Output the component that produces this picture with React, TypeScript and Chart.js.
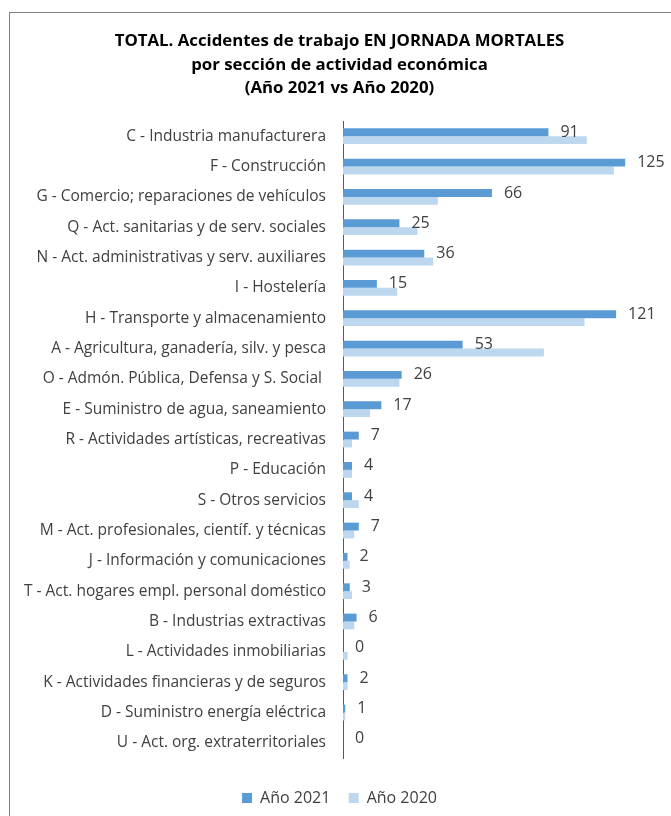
import React, { useEffect, useRef } from "react";
import { Chart, registerables } from "chart.js";

Chart.register(...registerables);

const categories = [
  "C - Industria manufacturera",
  "F - Construcción",
  "G - Comercio; reparaciones de vehículos",
  "Q - Act. sanitarias y de serv. sociales",
  "N - Act. administrativas y serv. auxiliares",
  "I - Hostelería",
  "H - Transporte y almacenamiento",
  "A - Agricultura, ganadería, silv. y pesca",
  "O - Admón. Pública, Defensa y S. Social ",
  "E - Suministro de agua, saneamiento",
  "R - Actividades artísticas, recreativas",
  "P - Educación",
  "S - Otros servicios",
  "M - Act. profesionales, científ. y técnicas",
  "J - Información y comunicaciones",
  "T - Act. hogares empl. personal doméstico",
  "B - Industrias extractivas",
  "L - Actividades inmobiliarias",
  "K - Actividades financieras y de seguros",
  "D - Suministro energía eléctrica",
  "U - Act. org. extraterritoriales",
];

const values2021 = [91, 125, 66, 25, 36, 15, 121, 53, 26, 17, 7, 4, 4, 7, 2, 3, 6, 0, 2, 1, 0];
const values2020 = [108, 120, 42, 33, 40, 24, 107, 89, 25, 12, 4, 4, 7, 5, 3, 4, 5, 2, 2, 1, 0];

const seriesNames = ["Año 2021", "Año 2020"];

const titleLines = [
  "TOTAL. Accidentes de trabajo EN JORNADA MORTALES",
  "por sección de actividad económica",
  "(Año 2021 vs Año 2020)",
];

const FONT = "'Open Sans', Lato, sans-serif";
const COLOR_2021 = "#5B9BD5";
const COLOR_2020 = "#BDD7EE";
const TEXT = "#404040";

const dataLabelPlugin = {
  id: "dataLabels2021",
  afterDatasetsDraw(chart: any) {
    const ctx = chart.ctx;
    const meta = chart.getDatasetMeta(0);
    ctx.save();
    ctx.font = `16px ${FONT}`;
    ctx.fillStyle = TEXT;
    ctx.textAlign = "left";
    ctx.textBaseline = "middle";
    meta.data.forEach((bar: any, i: number) => {
      ctx.fillText(String(values2021[i]), bar.x + 12, bar.y);
    });
    ctx.restore();
  },
};

export default function App() {
  const canvasRef = useRef<HTMLCanvasElement | null>(null);

  useEffect(() => {
    if (!canvasRef.current) return;
    const chart = new Chart(canvasRef.current, {
      type: "bar",
      data: {
        labels: categories,
        datasets: [
          {
            label: seriesNames[0],
            data: values2021,
            backgroundColor: COLOR_2021,
            barPercentage: 1,
            categoryPercentage: 0.52,
          },
          {
            label: seriesNames[1],
            data: values2020,
            backgroundColor: COLOR_2020,
            barPercentage: 1,
            categoryPercentage: 0.52,
          },
        ],
      },
      options: {
        indexAxis: "y",
        animation: false,
        responsive: false,
        maintainAspectRatio: false,
        layout: { padding: { top: 0, right: 12, bottom: 0, left: 20 } },
        scales: {
          x: {
            display: true,
            min: 0,
            max: 140,
            ticks: { display: false },
            grid: { display: false },
            border: { display: false },
            afterFit: (scale: any) => {
              scale.height = 22;
            },
          },
          y: {
            grid: { display: false, drawTicks: false },
            border: { display: true, color: "#595959", width: 1 },
            ticks: {
              autoSkip: false,
              padding: 17,
              color: TEXT,
              font: { family: FONT, size: 15.5 },
            },
            afterFit: (scale: any) => {
              scale.width = 323;
            },
          },
        },
        plugins: {
          title: {
            display: true,
            text: titleLines,
            color: "#000000",
            font: { family: FONT, size: 16.8, weight: "bold", lineHeight: 1.39 },
            padding: { top: 30, bottom: 21 },
          },
          legend: {
            display: true,
            position: "bottom",
            labels: {
              boxWidth: 10,
              boxHeight: 10,
              padding: 10,
              color: TEXT,
              font: { family: FONT, size: 16 },
              generateLabels: (chart: any) => {
                const items = Chart.defaults.plugins.legend.labels.generateLabels(chart);
                return items.map((it: any, i: number) =>
                  i === 0 ? { ...it, text: it.text + "  " } : it
                );
              },
            },
          },
          tooltip: { enabled: false },
        },
      },
      plugins: [dataLabelPlugin],
    });
    return () => chart.destroy();
  }, []);

  return (
    <div
      style={{
        position: "absolute",
        left: 0,
        top: 0,
        width: 671,
        height: 816,
        overflow: "hidden",
        background: "#ffffff",
      }}
    >
      <div
        style={{
          position: "absolute",
          left: 9,
          top: 12,
          width: 700,
          height: 900,
          border: "1.5px solid #7f7f7f",
        }}
      />
      <canvas
        ref={canvasRef}
        width={671}
        height={816}
        style={{ position: "absolute", left: 0, top: 0, width: 671, height: 816 }}
      />
    </div>
  );
}
